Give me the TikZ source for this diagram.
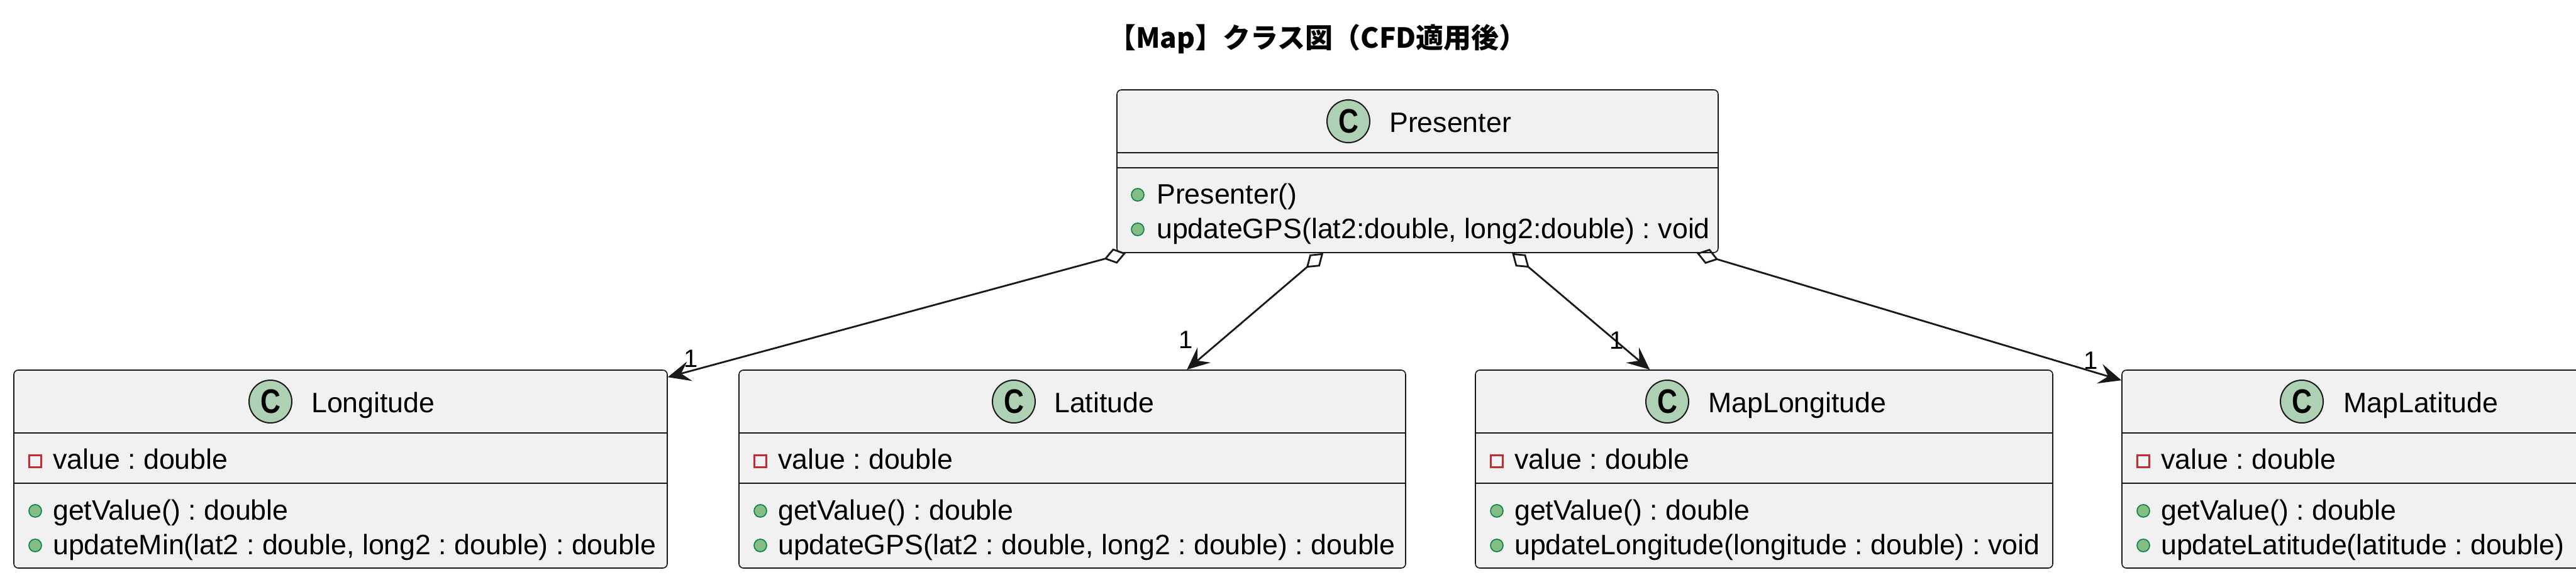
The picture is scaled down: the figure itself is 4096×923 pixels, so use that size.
\documentclass[tikz,border=0pt]{standalone}
\usepackage{fontspec}
\setmainfont{Liberation Sans}
\newfontfamily\cjk{Noto Sans CJK JP}
\usetikzlibrary{arrows.meta}
\definecolor{boxfill}{HTML}{F1F1F1}
\definecolor{linec}{HTML}{181818}
\definecolor{badge}{HTML}{ADD1B2}
\definecolor{pubfill}{HTML}{84BE84}
\definecolor{pubdraw}{HTML}{038048}
\definecolor{privdraw}{HTML}{C82930}
\newcommand\mfont{\fontsize{44.7}{53}\selectfont\frenchspacing}
\newcommand\Cletter{\fontsize{54}{54}\selectfont\bfseries\scalebox{0.82}[1]{C}}
\tikzset{
  classbox/.style={draw=linec, fill=boxfill, rounded corners=7pt, line width=1.6pt, inner sep=0pt},
  sepline/.style={draw=linec, line width=1.6pt},
  cbadge/.style={circle, draw=linec, fill=badge, line width=2pt, minimum size=68pt, inner sep=0pt},
  cname/.style={anchor=base west, font=\mfont, inner sep=0pt},
  member/.style={anchor=base west, font=\mfont, inner sep=0pt},
  pubicon/.style={circle, draw=pubdraw, fill=pubfill, line width=1.6pt, minimum size=20pt, inner sep=0pt},
  privicon/.style={rectangle, draw=privdraw, line width=2.2pt, minimum size=19pt, inner sep=0pt},
  assoc/.style={draw=linec, line width=2.8pt,
    {Diamond[open, length=36pt, width=25pt]}-{Stealth[length=36pt, width=32pt, inset=14pt]}},
  lbl/.style={font=\fontsize{40}{48}\selectfont, inner sep=0pt},
}
\begin{document}
\frenchspacing
\begin{tikzpicture}[x=1pt,y=-1pt]
\useasboundingbox (0,0) rectangle (4096,923);
\clip (0,0) rectangle (4096,923);

% title
\node[font=\cjk\bfseries\fontsize{44}{53}\selectfont, anchor=base, inner sep=0pt] (title) at (2095,77) {【Map】クラス図（CFD適用後）};

% Presenter
\node[classbox, minimum width=956pt, minimum height=259pt] (pres) at (2254,272.5) {};
\draw[sepline] (1776,243) -- (2732,243);
\draw[sepline] (1776,267) -- (2732,267);
\node[cbadge] (presC) at (2144,193) {\Cletter};
\node[cname] (presN) at (2209,210) {Presenter};
\node[pubicon] (presI1) at (1809,310) {};
\node[member] (presM1) at (1839,324) {Presenter()};
\node[pubicon] (presI2) at (1809,365) {};
\node[member] (presM2) at (1839,379) {updateGPS(lat2:double, long2:double) : void};

% Longitude
\node[classbox, minimum width=1039pt, minimum height=315pt] (lon) at (541.5,746.5) {};
\draw[sepline] (22,689) -- (1061,689);
\draw[sepline] (22,769) -- (1061,769);
\node[cbadge] (lonC) at (430,639) {\Cletter};
\node[cname] (lonN) at (495,656) {Longitude};
\node[privicon] (lonI0) at (56,734) {};
\node[member] (lonA) at (84,746) {value : double};
\node[pubicon] (lonI1) at (56,813) {};
\node[member] (lonM1) at (84,827) {getValue() : double};
\node[pubicon] (lonI2) at (56,868) {};
\node[member] (lonM2) at (84,882) {updateMin(lat2 : double, long2 : double) : double};

% Latitude
\node[classbox, minimum width=1060pt, minimum height=315pt] (lat) at (1705,746.5) {};
\draw[sepline] (1175,689) -- (2235,689);
\draw[sepline] (1175,769) -- (2235,769);
\node[cbadge] (latC) at (1612,639) {\Cletter};
\node[cname] (latN) at (1676,656) {Latitude};
\node[privicon] (latI0) at (1209,734) {};
\node[member] (latA) at (1237,746) {value : double};
\node[pubicon] (latI1) at (1209,813) {};
\node[member] (latM1) at (1237,827) {getValue() : double};
\node[pubicon] (latI2) at (1209,868) {};
\node[member] (latM2) at (1237,882) {updateGPS(lat2 : double, long2 : double) : double};

% MapLongitude
\node[classbox, minimum width=918pt, minimum height=315pt] (mlon) at (2805,746.5) {};
\draw[sepline] (2346,689) -- (3264,689);
\draw[sepline] (2346,769) -- (3264,769);
\node[cbadge] (mlonC) at (2651,639) {\Cletter};
\node[cname] (mlonN) at (2716,656) {MapLongitude};
\node[privicon] (mlonI0) at (2380,734) {};
\node[member] (mlonA) at (2408,746) {value : double};
\node[pubicon] (mlonI1) at (2380,813) {};
\node[member] (mlonM1) at (2408,827) {getValue() : double};
\node[pubicon] (mlonI2) at (2380,868) {};
\node[member] (mlonM2) at (2408,882) {updateLongitude(longitude : double) : void};

% MapLatitude (cut off at the right edge)
\node[classbox, minimum width=844pt, minimum height=315pt] (mlat) at (3796,746.5) {};
\draw[sepline] (3374,689) -- (4218,689);
\draw[sepline] (3374,769) -- (4218,769);
\node[cbadge] (mlatC) at (3660,639) {\Cletter};
\node[cname] (mlatN) at (3726,656) {MapLatitude};
\node[privicon] (mlatI0) at (3408,734) {};
\node[member] (mlatA) at (3436,746) {value : double};
\node[pubicon] (mlatI1) at (3408,813) {};
\node[member] (mlatM1) at (3436,827) {getValue() : double};
\node[pubicon] (mlatI2) at (3408,868) {};
\node[member] (mlatM2) at (3436,882) {updateLatitude(latitude : double)};

% connectors
\coordinate (d1) at ([xshift=15pt]pres.south west);
\coordinate (d2) at ([xshift=329pt]pres.south west);
\coordinate (d3) at ([xshift=629pt]pres.south west);
\coordinate (d4) at ([xshift=-35pt]pres.south east);
\coordinate (t1) at ([yshift=-12pt]lon.north east);
\coordinate (t2) at ([xshift=713pt]lat.north west);
\coordinate (t3) at ([xshift=278pt]mlon.north west);
\coordinate (t4) at ([yshift=-17pt]mlat.north west);
\draw[assoc] (d1) -- (t1);
\draw[assoc] (d2) -- (t2);
\draw[assoc] (d3) -- (t3);
\draw[assoc] (d4) -- (t4);
\node[lbl] (l1) at (1099,571) {1};
\node[lbl] (l2) at (1886,541) {1};
\node[lbl] (l3) at (2571,542) {1};
\node[lbl] (l4) at (3325,574) {1};
\end{tikzpicture}
\end{document}
